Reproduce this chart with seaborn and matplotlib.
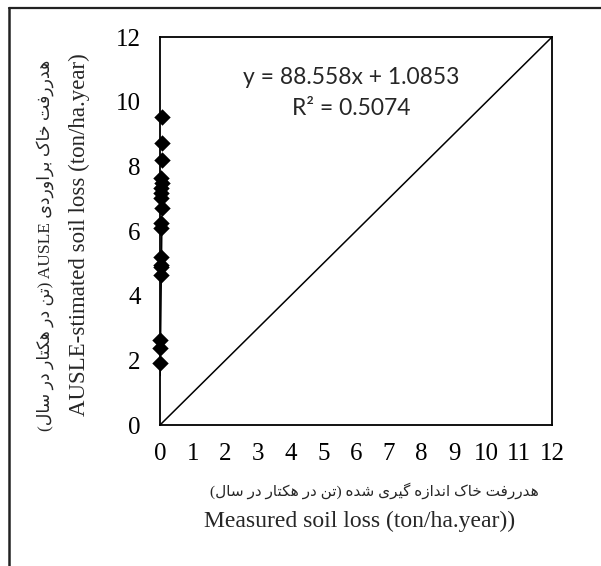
import matplotlib
matplotlib.use("Agg")
import numpy as np
import pandas as pd
import matplotlib.pyplot as plt
import seaborn as sns
from matplotlib.lines import Line2D

# ---------------- data ----------------
measured = [0.060, 0.050, 0.055, 0.040, 0.058, 0.035, 0.045, 0.030, 0.052,
            0.032, 0.025, 0.040, 0.028, 0.036, 0.020, 0.015, 0.008, 0.005]
estimated = [9.54, 8.72, 8.20, 7.64, 7.49, 7.33, 7.18, 7.02, 6.71,
             6.25, 6.09, 5.20, 4.95, 4.89, 4.64, 2.63, 2.38, 1.92]
slope, intercept, r_squared = 88.558, 1.0853, 0.5074
one_to_one = [0, 12]
x_ticks = list(range(0, 13))
y_ticks = list(range(0, 13, 2))

eq_text = "y = 88.558x + 1.0853"
r2_text = "R² = 0.5074"
xlabel_fa = "هدررفت خاک اندازه گیری شده (تن در هکتار در سال)"
xlabel_en = "Measured soil loss (ton/ha.year))"
ylabel_fa = "هدررفت خاک براوردی AUSLE (تن در هکتار در سال)"
ylabel_en = "AUSLE-stimated soil loss (ton/ha.year)"

# ------------- Persian shaping (matplotlib has no text shaping) -------------
FORMS = {
    '\u0627': ('\uFE8D', '\uFE8E', None, None),
    '\u0628': ('\uFE8F', '\uFE90', '\uFE91', '\uFE92'),
    '\u062A': ('\uFE95', '\uFE96', '\uFE97', '\uFE98'),
    '\u062E': ('\uFEA5', '\uFEA6', '\uFEA7', '\uFEA8'),
    '\u062F': ('\uFEA9', '\uFEAA', None, None),
    '\u0631': ('\uFEAD', '\uFEAE', None, None),
    '\u0632': ('\uFEAF', '\uFEB0', None, None),
    '\u0633': ('\uFEB1', '\uFEB2', '\uFEB3', '\uFEB4'),
    '\u0634': ('\uFEB5', '\uFEB6', '\uFEB7', '\uFEB8'),
    '\u0641': ('\uFED1', '\uFED2', '\uFED3', '\uFED4'),
    '\u0644': ('\uFEDD', '\uFEDE', '\uFEDF', '\uFEE0'),
    '\u0646': ('\uFEE5', '\uFEE6', '\uFEE7', '\uFEE8'),
    '\u0647': ('\uFEE9', '\uFEEA', '\uFEEB', '\uFEEC'),
    '\u0648': ('\uFEED', '\uFEEE', None, None),
    '\u06A9': ('\uFB8E', '\uFB8F', '\uFB90', '\uFB91'),
    '\u06AF': ('\uFB92', '\uFB93', '\uFB94', '\uFB95'),
    '\u06CC': ('\uFBFC', '\uFBFD', '\uFBFE', '\uFBFF'),
}
MIRROR = {'(': ')', ')': '('}


def shape(text):
    out = []
    for i, ch in enumerate(text):
        if ch not in FORMS:
            out.append(ch)
            continue
        prev = text[i - 1] if i > 0 else ''
        nxt = text[i + 1] if i + 1 < len(text) else ''
        jp = prev in FORMS and FORMS[prev][2] is not None
        jn = FORMS[ch][2] is not None and nxt in FORMS
        iso, fin, ini, med = FORMS[ch]
        if jp and jn:
            out.append(med)
        elif jp:
            out.append(fin)
        elif jn:
            out.append(ini)
        else:
            out.append(iso)
    return ''.join(out)


def rtl(text):
    shaped = shape(text)
    runs, cur, cur_ltr = [], '', None
    for ch in shaped:
        is_ltr = ch.isascii() and ch.isalnum()
        kind = True if is_ltr else (False if not ch.isspace() and ch not in '()' else None)
        if kind is None:
            kind = False
        if cur_ltr is None or kind == cur_ltr:
            cur += ch
            cur_ltr = kind
        else:
            runs.append((cur_ltr, cur))
            cur, cur_ltr = ch, kind
    runs.append((cur_ltr, cur))
    vis = []
    for is_ltr, r in reversed(runs):
        if is_ltr:
            vis.append(r)
        else:
            vis.append(''.join(MIRROR.get(c, c) for c in reversed(r)))
    return ''.join(vis)


# ---------------- style ----------------
sns.set_style("white")
plt.rcParams['font.family'] = ['Liberation Serif', 'DejaVu Sans']

W, H = 601, 566
fig = plt.figure(figsize=(W / 100, H / 100), dpi=100)
ax = fig.add_axes([160 / W, 141 / H, 392 / W, 388 / H])

df = pd.DataFrame({'measured': measured, 'estimated': estimated})

sns.lineplot(x=one_to_one, y=one_to_one, color='black', linewidth=1.1, ax=ax, zorder=2)
x_fit = np.array([min(measured), max(measured)])
sns.lineplot(x=x_fit, y=slope * x_fit + intercept, color='black', linewidth=1.1, ax=ax, zorder=2)
sns.scatterplot(data=df, x='measured', y='estimated', marker='D', s=70, color='black',
                edgecolor='black', linewidth=0, ax=ax, zorder=3, legend=False, clip_on=False)

ax.set_xlim(0, 12)
ax.set_ylim(0, 12)
ax.set_xticks(x_ticks)
ax.set_yticks(y_ticks)
ax.set_xlabel('')
ax.set_ylabel('')
ax.tick_params(axis='both', direction='in', length=5, width=1.1, colors='black', labelsize=18)
ax.tick_params(axis='x', pad=13)
ax.tick_params(axis='y', pad=14)
for sp in ax.spines.values():
    sp.set_visible(True)
    sp.set_color('black')
    sp.set_linewidth(1.3)

ax.text(5.85, 10.75, eq_text, ha='center', va='center', fontsize=16.5,
        family=['Lato', 'DejaVu Sans'])
ax.text(5.85, 9.78, r2_text, ha='center', va='center', fontsize=16.5,
        family=['Lato', 'DejaVu Sans'])

# axis titles
fig.text(374 / W, 1 - 491 / H, rtl(xlabel_fa), ha='center', va='center', fontsize=11,
         family=['Liberation Serif', 'DejaVu Sans'])
fig.text(360 / W, 1 - 521 / H, xlabel_en, ha='center', va='center', fontsize=17)
fig.text(45 / W, 1 - 245 / H, rtl(ylabel_fa), ha='center', va='center', fontsize=12.5,
         rotation=90, family=['Liberation Serif', 'DejaVu Sans'])
fig.text(79 / W, 1 - 235 / H, ylabel_en, ha='center', va='center', fontsize=16.5, rotation=90)

# outer frame (left and top edges visible)
fig.add_artist(Line2D([8.7 / W, 8.7 / W], [0, 1 - 8.3 / H], transform=fig.transFigure,
                      color='#222222', linewidth=1.8))
fig.add_artist(Line2D([8.7 / W, 1], [1 - 8.3 / H, 1 - 8.3 / H], transform=fig.transFigure,
                      color='#222222', linewidth=1.6))

fig.savefig('out.png', dpi=100)
